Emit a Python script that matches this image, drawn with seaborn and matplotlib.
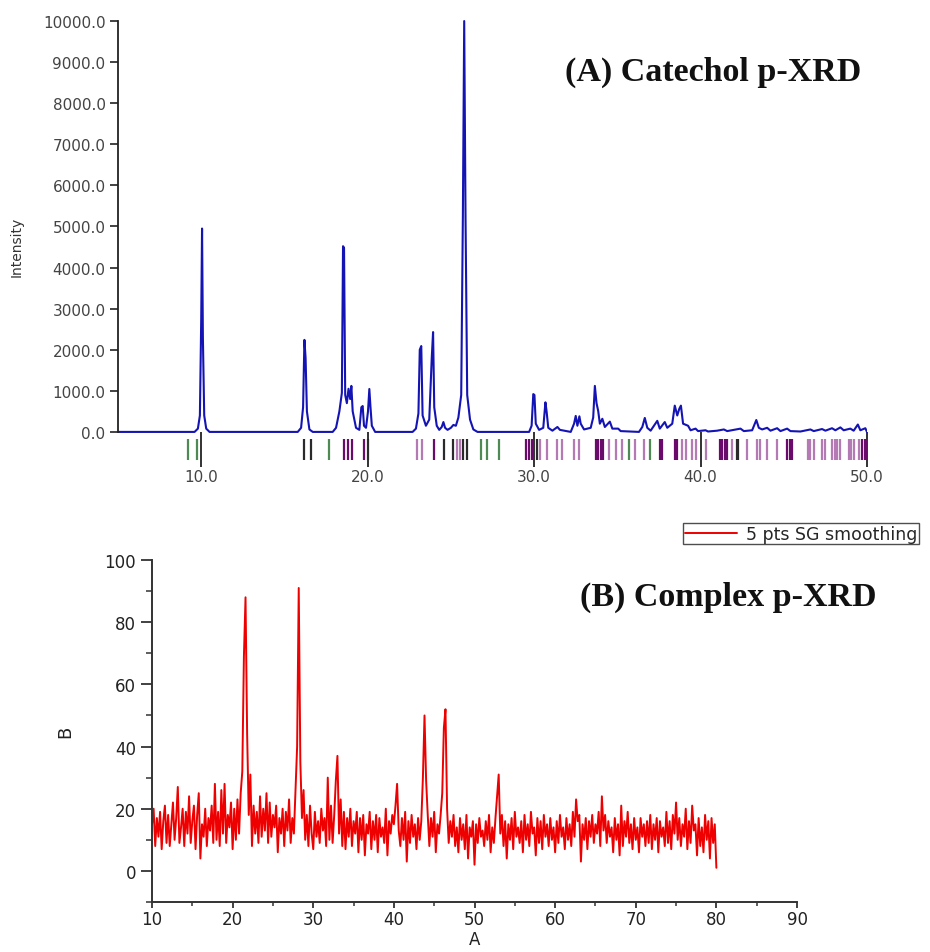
import numpy as np
import pandas as pd
import seaborn as sns
import matplotlib.pyplot as plt
from matplotlib.ticker import MultipleLocator

# (A) catechol profile (2theta, intensity)
cat_2theta = [5.0, 9.6, 9.8, 9.92, 10.0, 10.05, 10.1, 10.18, 10.3, 10.5,
              15.8, 16.0, 16.12, 16.2, 16.27, 16.35, 16.5, 16.7,
              17.9, 18.1, 18.3, 18.45, 18.52, 18.58, 18.65, 18.75, 18.85, 18.95, 19.02, 19.1,
              19.3, 19.5, 19.62, 19.7, 19.78, 19.9, 20.02, 20.1, 20.17, 20.25, 20.45,
              22.7, 22.9, 23.05, 23.13, 23.22, 23.3, 23.5, 23.7, 23.85, 23.93, 24.0, 24.15,
              24.3, 24.45, 24.55, 24.65, 24.8, 25.0, 25.15, 25.3, 25.45, 25.62, 25.72, 25.8,
              25.88, 25.98, 26.15, 26.35, 26.6,
              29.7, 29.85, 29.95, 30.02, 30.1, 30.3, 30.55, 30.68, 30.75, 30.85, 31.1, 31.4,
              31.55, 32.2, 32.4, 32.5, 32.6, 32.72, 32.8, 33.0, 33.4, 33.55, 33.65, 33.75,
              33.85, 33.95, 34.1, 34.25, 34.55, 34.7, 35.05, 35.2, 36.3, 36.5, 36.65, 36.8,
              37.0, 37.4, 37.55, 37.85, 38.0, 38.3, 38.45, 38.6, 38.72, 38.82, 38.95, 39.25,
              39.4, 39.7, 39.85, 40.3, 40.45, 41.0, 41.4, 41.6, 42.0, 42.4, 42.6, 43.1, 43.35,
              43.5, 43.7, 44.0, 44.2, 44.6, 44.8, 45.2, 45.4, 46.0, 46.6, 46.8, 47.3, 47.5,
              47.9, 48.1, 48.4, 48.6, 49.0, 49.2, 49.45, 49.6, 49.9, 50.0]
cat_intensity = [0, 0, 80, 400, 2750, 4950, 2300, 400, 80, 0,
                 0, 100, 600, 2240, 1800, 500, 60, 0,
                 0, 100, 500, 950, 4520, 4480, 900, 700, 1050, 800, 1120, 500,
                 100, 50, 600, 630, 150, 100, 500, 1045, 600, 150, 0,
                 0, 80, 450, 2000, 2090, 400, 150, 300, 1800, 2430, 600, 150,
                 50, 120, 240, 100, 50, 100, 170, 150, 350, 900, 5250, 10000,
                 5200, 900, 300, 60, 0,
                 0, 150, 920, 900, 200, 50, 100, 720, 500, 100, 30, 120,
                 50, 0, 200, 390, 150, 380, 200, 60, 100, 350, 1120, 700,
                 510, 200, 320, 120, 250, 80, 80, 20, 0, 120, 340, 100,
                 30, 270, 80, 240, 100, 200, 640, 400, 560, 640, 200, 150,
                 40, 80, 20, 40, 10, 30, 60, 20, 50, 80, 20, 40, 290,
                 100, 60, 100, 30, 90, 20, 80, 20, 10, 60, 20, 70, 30,
                 90, 40, 110, 40, 80, 30, 180, 40, 90, 0]

# reference reflection markers under the pattern, grouped by colour
ref_green = [9.2, 9.75, 17.65, 26.8, 27.15, 27.9, 35.7, 36.95]
ref_black = [16.15, 16.6, 20.05, 24.6, 25.1, 25.7, 25.95, 30.15, 42.2, 42.25]
ref_purple = [18.55, 18.8, 19.05, 19.75, 24.0, 29.5, 29.7, 29.9, 33.7, 33.85, 34.0,
              34.15, 37.55, 37.7, 38.45, 38.6, 41.15, 41.3, 41.45, 41.6, 45.2, 45.35,
              45.5, 49.7, 49.85, 50.0]
ref_pink = [22.95, 23.25, 25.35, 25.55, 30.35, 30.8, 31.4, 31.7, 32.4, 32.7, 34.5,
            34.9, 35.3, 36.05, 36.6, 38.9, 39.1, 39.5, 39.75, 40.35, 41.9, 42.8, 43.4,
            43.6, 44.0, 44.6, 46.45, 46.6, 46.8, 47.3, 47.5, 47.9, 48.05, 48.2, 48.4,
            48.9, 49.05, 49.2, 49.5]

# (B) complex pattern, 0.2 deg steps from 10 to 80
cplx_intensity = [
    15, 20, 8, 17, 11, 19, 7, 16, 21, 9,
    18, 8, 15, 22, 10, 17, 27, 9, 14, 20,
    8, 19, 12, 24, 9, 16, 21, 7, 18, 25,
    4, 15, 11, 20, 8, 17, 13, 21, 9, 28,
    10, 19, 8, 26, 12, 28, 9, 18, 14, 22,
    7, 20, 10, 23, 12, 25, 32, 69, 88, 44,
    18, 31, 8, 21, 12, 19, 9, 24, 11, 20,
    13, 25, 9, 22, 11, 18, 14, 21, 6, 17,
    12, 20, 8, 19, 13, 23, 9, 17, 12, 26,
    40, 91, 35, 17, 26, 10, 18, 8, 21, 12,
    7, 19, 11, 16, 9, 20, 13, 17, 8, 30,
    10, 21, 9, 18, 29, 37, 12, 23, 8, 19,
    7, 17, 11, 20, 8, 16, 12, 19, 6, 17,
    10, 18, 5, 15, 12, 19, 7, 16, 10, 18,
    6, 17, 11, 14, 9, 20, 5, 16, 12, 18,
    15, 21, 28, 13, 8, 17, 10, 19, 3, 16,
    9, 18, 11, 15, 7, 17, 10, 16, 30, 50,
    29, 18, 8, 17, 11, 19, 6, 15, 12, 18,
    25, 46, 52, 20, 9, 16, 11, 18, 8, 14,
    6, 17, 10, 15, 7, 18, 4, 14, 11, 16,
    2, 15, 9, 17, 11, 13, 8, 16, 10, 18,
    6, 14, 9, 17, 24, 31, 12, 18, 8, 16,
    4, 15, 10, 17, 7, 19, 11, 14, 9, 16,
    6, 18, 10, 15, 8, 19, 12, 14, 5, 17,
    9, 16, 7, 18, 11, 15, 8, 17, 10, 14,
    6, 16, 9, 18, 11, 14, 7, 17, 10, 15,
    8, 19, 11, 23, 16, 18, 3, 15, 10, 17,
    7, 16, 11, 18, 9, 15, 12, 19, 8, 24,
    13, 18, 9, 16, 11, 14, 6, 17, 10, 15,
    5, 21, 8, 16, 11, 19, 9, 15, 7, 17,
    10, 14, 6, 17, 11, 15, 8, 16, 9, 18,
    7, 15, 10, 17, 6, 16, 11, 14, 8, 19,
    9, 16, 7, 18, 12, 22, 10, 17, 8, 15,
    11, 20, 7, 16, 9, 21, 13, 15, 5, 17,
    8, 14, 6, 18, 10, 16, 4, 17, 9, 15,
    1]
cplx_2theta = np.linspace(10, 80, len(cplx_intensity))

df_a = pd.DataFrame({'2theta': cat_2theta, 'Intensity': cat_intensity})
df_b = pd.DataFrame({'A': cplx_2theta, 'B': cplx_intensity})

sns.set_style("white")
plt.rcParams['font.family'] = ['DejaVu Sans']

fig = plt.figure(figsize=(9.3, 9.53), dpi=100)

# ---- panel A
ax1 = fig.add_axes([118 / 930, 1 - 474 / 953, 749 / 930, 454 / 953])
sns.lineplot(data=df_a, x='2theta', y='Intensity', estimator=None, sort=False,
             color='#1414b4', lw=1.5, ax=ax1)
for pos, col in [(ref_green, '#4f8a55'), (ref_black, '#2a2a2a'),
                 (ref_purple, '#6a0a6a'), (ref_pink, '#b47ab4')]:
    ax1.vlines(pos, -680, -170, colors=col, lw=1.6)
ax1.set_xlim(5, 50)
ax1.set_ylim(-1000, 10050)
ax1.set_yticks(np.arange(0, 10001, 1000))
ax1.set_yticklabels([f"{v:.1f}" for v in np.arange(0, 10001, 1000)])
ax1.set_xticks([10, 20, 30, 40, 50])
ax1.set_xticklabels(["10.0", "20.0", "30.0", "40.0", "50.0"])
for s in ['top', 'right']:
    ax1.spines[s].set_visible(False)
ax1.spines['bottom'].set_position(('data', 0))
ax1.spines['bottom'].set_visible(False)
ax1.spines['left'].set_bounds(0, 10000)
ax1.spines['left'].set_color('#222222')
ax1.spines['left'].set_linewidth(1.3)
ax1.tick_params(axis='y', direction='out', length=6, width=1.2, color='#222222',
                labelsize=11, labelcolor='#444444', pad=3, left=True)
ax1.tick_params(axis='x', direction='out', length=25, width=1.3, color='#222222',
                labelsize=11, labelcolor='#444444', pad=2, bottom=True)
ax1.set_xlabel('')
ax1.set_ylabel('Intensity', fontsize=10, color='#333333', labelpad=14)
ax1.text(0.597, 0.885, '(A) Catechol p-XRD', transform=ax1.transAxes, va='center',
         family='Liberation Serif', fontweight='bold', fontsize=24.5, color='#111111')

# ---- panel B
ax2 = fig.add_axes([152 / 930, 1 - 903 / 953, 645 / 930, 342 / 953])
sns.lineplot(data=df_b, x='A', y='B', estimator=None, color='#ee0000', lw=1.4,
             label='5 pts SG smoothing', ax=ax2, legend=False)
ax2.set_xlim(10, 90)
ax2.set_ylim(-10, 100)
ax2.xaxis.set_major_locator(MultipleLocator(10))
ax2.xaxis.set_minor_locator(MultipleLocator(5))
ax2.yaxis.set_major_locator(MultipleLocator(20))
ax2.yaxis.set_minor_locator(MultipleLocator(10))
for s in ['top', 'right']:
    ax2.spines[s].set_visible(False)
for s in ['left', 'bottom']:
    ax2.spines[s].set_color('#333333')
    ax2.spines[s].set_linewidth(1.4)
ax2.tick_params(axis='y', which='major', direction='out', length=8, width=1.3,
                color='#333333', labelsize=12, labelcolor='#222222', left=True)
ax2.tick_params(axis='y', which='minor', direction='out', length=4, width=1.1,
                color='#333333', left=True)
ax2.tick_params(axis='x', which='major', direction='out', length=4, width=1.3,
                color='#333333', labelsize=12, labelcolor='#222222', pad=2, bottom=True)
ax2.tick_params(axis='x', which='minor', direction='out', length=3, width=1.1,
                color='#333333', bottom=True)
ax2.set_xlabel('A', fontsize=12, color='#222222', labelpad=1)
ax2.set_ylabel('B', fontsize=13, color='#222222', labelpad=22)
ax2.text(0.664, 0.895, '(B) Complex p-XRD', transform=ax2.transAxes, va='center',
         family='Liberation Serif', fontweight='bold', fontsize=24.5, color='#111111')

leg = fig.legend(handles=ax2.get_lines()[:1], labels=['5 pts SG smoothing'],
                 loc='upper left', bbox_to_anchor=(683 / 930, 1 - 524 / 953),
                 frameon=True, fancybox=False, fontsize=12.5, handlelength=3.0,
                 borderpad=0.1, borderaxespad=0, handletextpad=0.5)
leg.get_frame().set_edgecolor('#222222')
leg.get_frame().set_linewidth(1.0)

plt.savefig('out.png', dpi=100, facecolor='white')
